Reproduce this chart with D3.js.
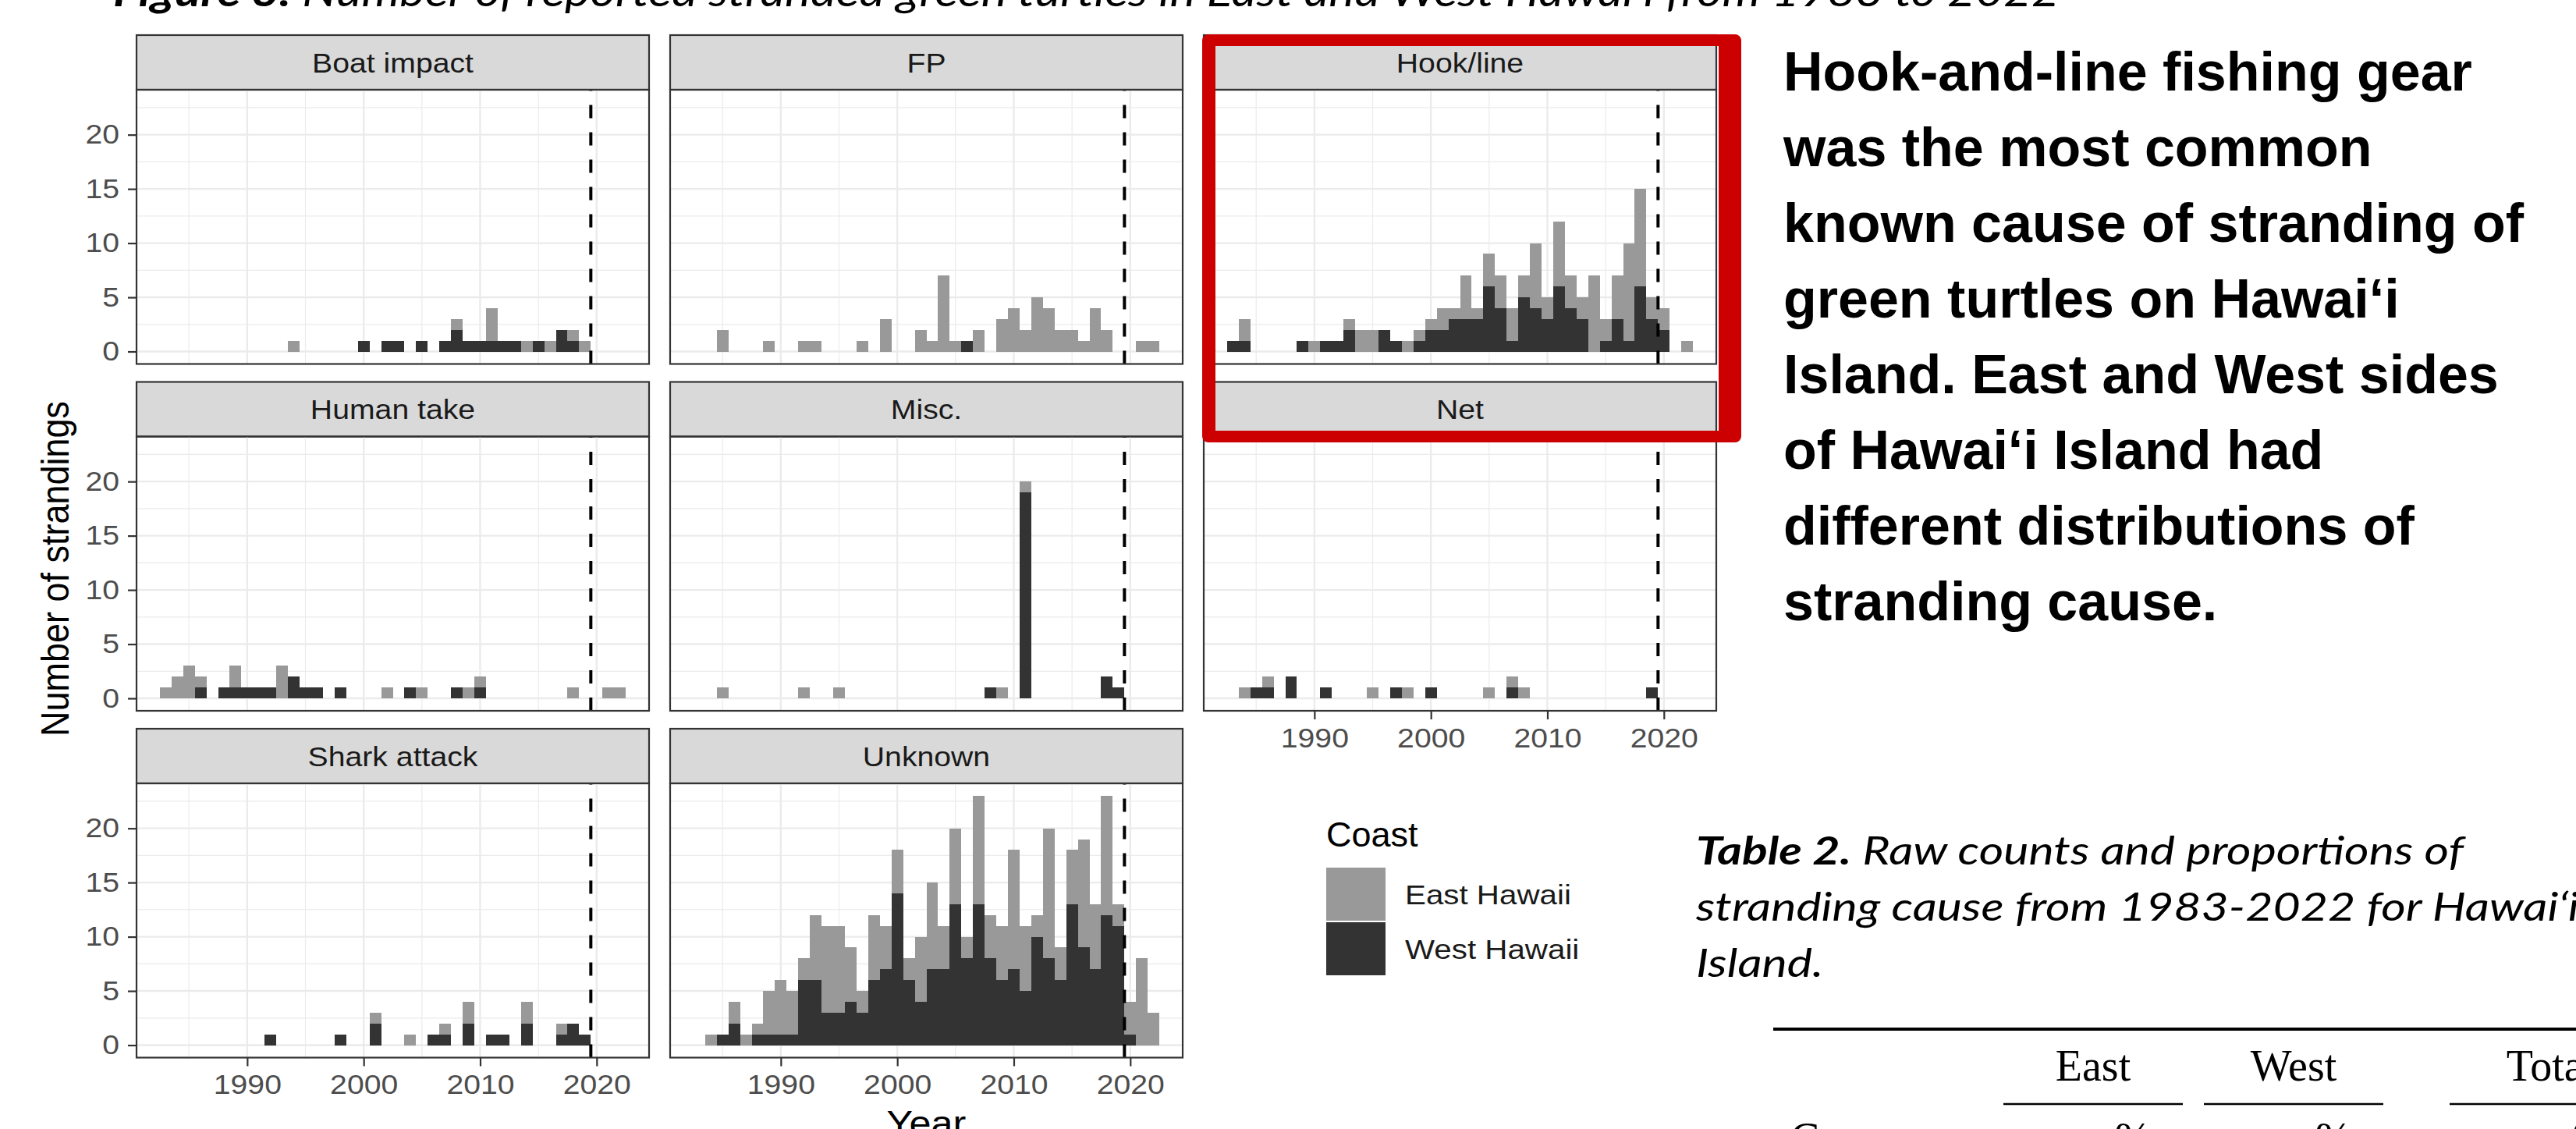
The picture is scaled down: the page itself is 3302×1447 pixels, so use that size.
<!DOCTYPE html>
<html><head><meta charset="utf-8">
<script src="https://cdn.jsdelivr.net/npm/d3@7"></script>
<style>body{margin:0;background:#fff;overflow:hidden}</style>
</head><body>
<script>
// ---------------- DATA ----------------
const years = [1983,1984,1985,1986,1987,1988,1989,1990,1991,1992,1993,1994,1995,1996,1997,1998,1999,2000,2001,2002,
               2003,2004,2005,2006,2007,2008,2009,2010,2011,2012,2013,2014,2015,2016,2017,2018,2019,2020,2021,2022];
const causes = ["Boat impact","FP","Hook/line","Human take","Misc.","Net","Shark attack","Unknown"];
const coasts = ["East Hawaii","West Hawaii"];
const yTicks = [0,5,10,15,20];
const xTicks = [1990,2000,2010,2020];
const covidLine = 2019.5;

const boatEast  = [0,0,0,0,0,0,0,0,0,0, 0,1,0,0,0,0,0,0,0,0, 0,0,0,0,0,1,0,0,3,0, 0,1,0,1,0,1,1,0,0,0];
const boatWest  = [0,0,0,0,0,0,0,0,0,0, 0,0,0,0,0,0,0,1,0,1, 1,0,1,0,1,2,1,1,1,1, 1,0,1,0,2,1,0,0,0,0];
const fpEast    = [0,0,2,0,0,0,1,0,0,1, 1,0,0,0,1,0,3,0,0,2, 1,7,1,0,2,0,3,4,2,5, 4,2,2,1,4,2,0,0,1,1];
const fpWest    = [0,0,0,0,0,0,0,0,0,0, 0,0,0,0,0,0,0,0,0,0, 0,0,0,1,0,0,0,0,0,0, 0,0,0,0,0,0,0,0,0,0];
const hookEast  = [0,2,0,0,0,0,0,1,0,0, 1,2,2,0,0,1,1,1,2,1, 4,1,3,3,3,2,6,2,6,3, 2,7,2,4,9,9,2,2,0,1];
const hookWest  = [1,1,0,0,0,0,1,0,1,1, 2,0,0,2,1,0,1,2,2,3, 3,3,6,4,1,5,4,3,6,4, 3,0,1,3,1,6,3,2,0,0];
const humanEast = [1,2,3,1,0,0,2,0,0,0, 3,0,0,0,0,0,0,0,0,1, 0,0,1,0,0,0,1,1,0,0, 0,0,0,0,0,1,0,0,1,1];
const humanWest = [0,0,0,1,0,1,1,1,1,1, 0,2,1,1,0,1,0,0,0,0, 0,1,0,0,0,1,0,1,0,0, 0,0,0,0,0,0,0,0,0,0];
const miscEast  = [0,0,1,0,0,0,0,0,0,1, 0,0,1,0,0,0,0,0,0,0, 0,0,0,0,0,0,1,0,1,0, 0,0,0,0,0,0,0,0,0,0];
const miscWest  = [0,0,0,0,0,0,0,0,0,0, 0,0,0,0,0,0,0,0,0,0, 0,0,0,0,0,1,0,0,19,0, 0,0,0,0,0,2,1,0,0,0];
const netEast   = [0,1,0,1,0,0,0,0,0,0, 0,0,1,0,0,1,0,0,0,0, 0,0,1,0,1,1,0,0,0,0, 0,0,0,0,0,0,0,0,0,0];
const netWest   = [0,0,1,1,0,2,0,0,1,0, 0,0,0,0,1,0,0,1,0,0, 0,0,0,0,1,0,0,0,0,0, 0,0,0,0,0,0,1,0,0,0];
const sharkEast = [0,0,0,0,0,0,0,0,0,0, 0,0,0,0,0,0,0,0,1,0, 0,1,0,0,1,0,2,0,0,0, 0,2,0,0,1,0,0,0,0,0];
const sharkWest = [0,0,0,0,0,0,0,0,0,1, 0,0,0,0,0,1,0,0,2,0, 0,0,0,1,1,0,2,0,1,1, 0,2,0,0,1,2,1,0,0,0];
const unkEast   = [0,1,0,2,1,1,4,5,4,2, 6,8,8,5,2,6,4,4,2,6, 8,4,7,2,10,4,5,11,6,2, 12,3,5,10,6,11,2,3,8,3];
const unkWest   = [0,0,1,2,0,1,1,1,1,6, 6,3,3,4,3,6,7,14,6,4, 7,7,13,8,13,8,6,7,5,10, 8,6,13,9,7,12,11,1,0,0];

const eastSeries = [boatEast, fpEast, hookEast, humanEast, miscEast, netEast, sharkEast, unkEast];
const westSeries = [boatWest, fpWest, hookWest, humanWest, miscWest, netWest, sharkWest, unkWest];

const titleBold = "Figure 3.";
const titleRest = " Number of reported stranded green  turtles in East and West Hawai\u2018i from 1983 to 2022";
const noteLines = ["Hook-and-line fishing gear","was the most common","known cause of stranding of",
  "green turtles on Hawai\u2018i","Island. East and West sides","of Hawai\u2018i Island had",
  "different distributions of","stranding cause."];
const tableCapBold = "Table 2.";
const tableCapLines = [" Raw counts and proportions of","stranding cause from 1983-2022 for Hawai\u2018i","Island."];
const tableCols = ["East","West","Total"];

// ---------------- LAYOUT ----------------
const W = 3302, H = 1447;
const EAST = "#999999", WEST = "#333333";
const SANS = "'Liberation Sans', Arial, Helvetica, sans-serif";
const SX = 1.12; // horizontal stretch of the chart text
const colX = [175, 859, 1543], panelW = 657;
const rowY = [115, 559.5, 1004], panelH = 351.5, stripH = 70;
const layout = [[0,0],[1,0],[2,0],[0,1],[1,1],[2,1],[0,2],[1,2]]; // [col,row]
const bottomPanels = new Set([5,6,7]);

function stretch(sel, sx) {
  sel.each(function() {
    const t = d3.select(this);
    const ax = +t.attr("x") || 0, ay = +t.attr("y") || 0;
    t.attr("transform", `translate(${ax},${ay}) scale(${sx},1) translate(${-ax},${-ay})`);
  });
}

const svg = d3.select("body").append("svg").attr("width", W).attr("height", H)
  .style("font-family", SANS);
svg.append("rect").attr("width", W).attr("height", H).attr("fill", "#fff");

const x0 = years[0] - 0.5, x1 = years[years.length-1] + 0.5;
const xr = x1 - x0;
const x = d3.scaleLinear().domain([x0 - 0.05*xr, x1 + 0.05*xr]).range([0, panelW]);
const maxTot = d3.max(eastSeries.map((e,k) => d3.max(e.map((v,i) => v + westSeries[k][i]))));
const y = d3.scaleLinear().domain([-0.05*maxTot, maxTot*1.05]).range([panelH, 0]);

causes.forEach((name, k) => {
  const [c, r] = layout[k];
  const g = svg.append("g").attr("transform", `translate(${colX[c]},${rowY[r]})`);
  // strip
  g.append("rect").attr("x",0).attr("y",-stripH).attr("width",panelW).attr("height",stripH)
    .attr("fill","#D9D9D9").attr("stroke","#333333").attr("stroke-width",2.2);
  const st = g.append("text").attr("x",panelW/2).attr("y",-stripH/2).attr("dy","0.36em")
    .attr("text-anchor","middle").attr("font-size",35).attr("fill","#1A1A1A").text(name);
  stretch(st, SX);
  // grid
  const gx1 = x.domain()[1];
  const minorXs = d3.range(1985, gx1, 10);
  g.selectAll(".gmx").data(minorXs).join("line")
    .attr("x1",d=>x(d)).attr("x2",d=>x(d)).attr("y1",0).attr("y2",panelH)
    .attr("stroke","#EBEBEB").attr("stroke-width",1.2);
  g.selectAll(".gmy").data(yTicks.map(v=>v+2.5)).join("line")
    .attr("x1",0).attr("x2",panelW).attr("y1",d=>y(d)).attr("y2",d=>y(d))
    .attr("stroke","#EBEBEB").attr("stroke-width",1.2);
  g.selectAll(".gMx").data(xTicks).join("line")
    .attr("x1",d=>x(d)).attr("x2",d=>x(d)).attr("y1",0).attr("y2",panelH)
    .attr("stroke","#EBEBEB").attr("stroke-width",2.4);
  g.selectAll(".gMy").data(yTicks).join("line")
    .attr("x1",0).attr("x2",panelW).attr("y1",d=>y(d)).attr("y2",d=>y(d))
    .attr("stroke","#EBEBEB").attr("stroke-width",2.4);
  // bars (stacked: West bottom, East top)
  const rows = years.map((yr,i) => ({yr, w: westSeries[k][i], e: eastSeries[k][i]}));
  g.selectAll(".bw").data(rows.filter(d=>d.w>0)).join("rect")
    .attr("x",d=>x(d.yr-0.5)).attr("width",d=>x(d.yr+0.5)-x(d.yr-0.5))
    .attr("y",d=>y(d.w)).attr("height",d=>y(0)-y(d.w))
    .attr("fill",WEST).attr("shape-rendering","crispEdges");
  g.selectAll(".be").data(rows.filter(d=>d.e>0)).join("rect")
    .attr("x",d=>x(d.yr-0.5)).attr("width",d=>x(d.yr+0.5)-x(d.yr-0.5))
    .attr("y",d=>y(d.w+d.e)).attr("height",d=>y(d.w)-y(d.w+d.e))
    .attr("fill",EAST).attr("shape-rendering","crispEdges");
  // dashed line (drawn bottom to top)
  g.append("line").attr("x1",x(covidLine)).attr("x2",x(covidLine)).attr("y1",panelH).attr("y2",0)
    .attr("stroke","#000").attr("stroke-width",4).attr("stroke-dasharray","17,18");
  // border
  g.append("rect").attr("width",panelW).attr("height",panelH).attr("fill","none")
    .attr("stroke","#333333").attr("stroke-width",2.2);
  // axes
  if (c === 0) {
    const ax = g.append("g").call(d3.axisLeft(y).tickValues(yTicks).tickSize(11).tickPadding(11));
    ax.select(".domain").remove();
    ax.selectAll("line").attr("stroke","#333333").attr("stroke-width",2.2);
    ax.selectAll("text").attr("font-size",35).attr("fill","#4D4D4D").attr("font-family",SANS)
      .call(s => stretch(s, SX));
  }
  if (bottomPanels.has(k)) {
    const ax = g.append("g").attr("transform",`translate(0,${panelH})`)
      .call(d3.axisBottom(x).tickValues(xTicks).tickFormat(d3.format("d")).tickSize(11).tickPadding(11));
    ax.select(".domain").remove();
    ax.selectAll("line").attr("stroke","#333333").attr("stroke-width",2.2);
    ax.selectAll("text").attr("font-size",35).attr("fill","#4D4D4D").attr("font-family",SANS)
      .call(s => stretch(s, SX));
  }
});

// axis titles
svg.append("text").attr("transform",`translate(88,729) scale(${SX},1) rotate(-90)`).attr("text-anchor","middle")
  .attr("font-size",45).attr("fill","#000").text("Number of strandings");
const yt = svg.append("text").attr("x",(colX[0]+colX[2]+panelW)/2).attr("y",1455).attr("text-anchor","middle")
  .attr("font-size",45).attr("fill","#000").text("Year");
stretch(yt, SX);

// legend
const lg = svg.append("g");
lg.append("text").attr("x",1700).attr("y",1085).attr("font-size",45).attr("fill","#000").text("Coast");
coasts.forEach((cName, i) => {
  const ky = 1112 + i*70;
  lg.append("rect").attr("x",1700).attr("y",ky).attr("width",76).attr("height",68)
    .attr("fill", i===0 ? EAST : WEST);
  const lt = lg.append("text").attr("x",1801).attr("y",ky+34).attr("dy","0.35em").attr("font-size",36)
    .attr("fill","#1A1A1A").text(cName);
  stretch(lt, SX);
});

// top caption (cut off by the page edge, as in the source)
const tt = svg.append("text").attr("x",145).attr("y",8).attr("font-family","Lato, 'Open Sans', sans-serif")
  .attr("font-style","italic").attr("font-size",52).attr("fill","#000")
  .attr("textLength",2495).attr("lengthAdjust","spacingAndGlyphs");
tt.append("tspan").attr("font-weight","bold").text(titleBold);
tt.append("tspan").text(titleRest);

// note text
svg.append("g").selectAll("text").data(noteLines).join("text")
  .attr("x",2286).attr("y",(d,i)=>116 + i*97).attr("font-size",70).attr("font-weight","bold")
  .attr("fill","#000").text(d=>d);

// table caption
const capFont = "Lato, 'Open Sans', sans-serif";
const capTexts = [];
tableCapLines.forEach((ln, i) => {
  const t = svg.append("text").attr("x",2174).attr("y",1108 + i*72).attr("font-family",capFont)
    .attr("font-style","italic").attr("font-size",50).attr("fill","#000");
  if (i === 0) t.append("tspan").attr("font-weight","bold").text(tableCapBold);
  t.append("tspan").text(ln);
  capTexts.push(t);
});
const capW = capTexts[0].node().getComputedTextLength();
const capSX = capW > 0 ? 984 / capW : 1.15;
capTexts.forEach(t => stretch(t, capSX));

// table header
const SERIF = "'Liberation Serif','Times New Roman',serif";
svg.append("line").attr("x1",2273).attr("x2",3302).attr("y1",1319).attr("y2",1319)
  .attr("stroke","#000").attr("stroke-width",4);
const colCenters = [2683, 2940, 3270];
const ruleHalf = [115, 115, 130];
tableCols.forEach((cn, i) => {
  svg.append("text").attr("x",colCenters[i]).attr("y",1385).attr("text-anchor","middle")
    .attr("font-family",SERIF).attr("font-size",56).attr("fill","#000").text(cn);
  svg.append("line").attr("x1",colCenters[i]-ruleHalf[i]).attr("x2",colCenters[i]+ruleHalf[i])
    .attr("y1",1415).attr("y2",1415).attr("stroke","#000").attr("stroke-width",2.5);
  svg.append("text").attr("x",colCenters[i]-55).attr("y",1478).attr("font-family",SERIF)
    .attr("font-style","italic").attr("font-size",56).attr("fill","#000").text("n");
  svg.append("text").attr("x",colCenters[i]+28).attr("y",1478).attr("font-family",SERIF)
    .attr("font-size",56).attr("fill","#000").text("%");
});
svg.append("text").attr("x",2295).attr("y",1478).attr("font-family",SERIF)
  .attr("font-size",56).attr("fill","#000").text("Cause");

// red highlight box (outer minus inner)
const ox0=1541, oy0=44, ox1=2232, oy1=567, ix0=1558, iy0=59, ix1=2203, iy1=552, rr=8;
const p = d3.path();
p.moveTo(ox0+rr, oy0); p.lineTo(ox1-rr, oy0); p.arcTo(ox1, oy0, ox1, oy0+rr, rr);
p.lineTo(ox1, oy1-rr); p.arcTo(ox1, oy1, ox1-rr, oy1, rr);
p.lineTo(ox0+rr, oy1); p.arcTo(ox0, oy1, ox0, oy1-rr, rr);
p.lineTo(ox0, oy0+rr); p.arcTo(ox0, oy0, ox0+rr, oy0, rr); p.closePath();
p.moveTo(ix0, iy0); p.lineTo(ix0, iy1); p.lineTo(ix1, iy1); p.lineTo(ix1, iy0); p.closePath();
svg.append("path").attr("d", p.toString()).attr("fill","#CC0000").attr("fill-rule","evenodd");
</script>
</body></html>
